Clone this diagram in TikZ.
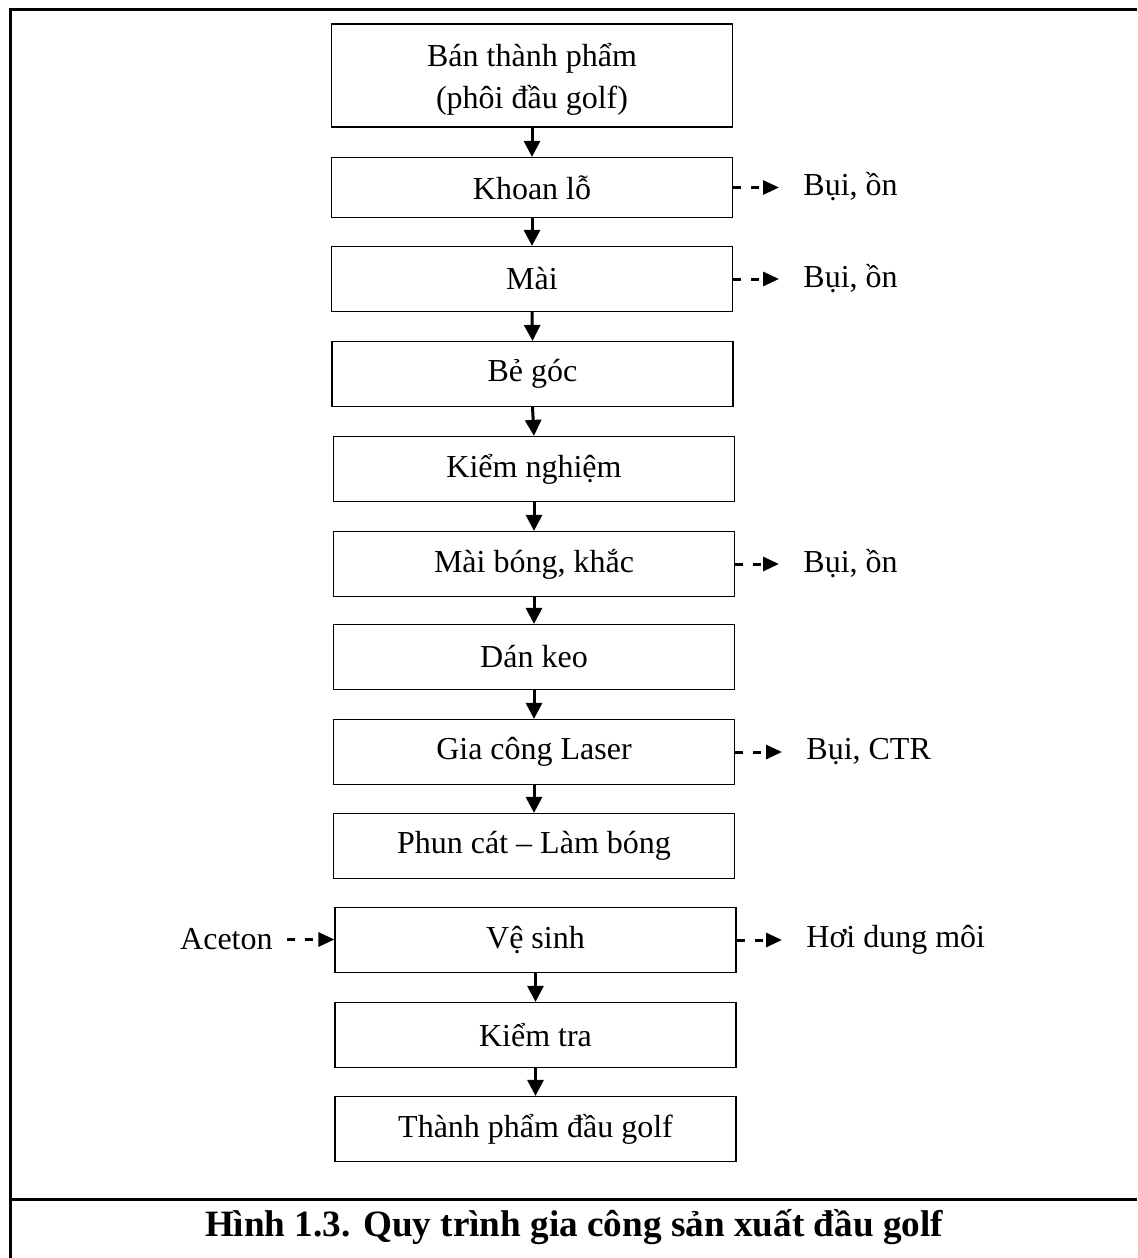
\documentclass[tikz,border=0pt]{standalone}
\usepackage{fontspec}
\setmainfont{Liberation Serif}
\usetikzlibrary{arrows.meta}
\begin{document}
\begin{tikzpicture}[x=0.5pt,y=-0.5pt,
  stepbox/.style={draw=black,line width=0.6pt,minimum width=200.5pt,minimum height=32.5pt,
    inner sep=2pt,align=center,font=\fontsize{16}{21}\selectfont},
  side/.style={inner sep=0pt,anchor=west,font=\fontsize{16}{20}\selectfont},
  flow/.style={line width=1.5pt,-{Triangle[length=8pt,width=8pt]}},
  emit/.style={line width=1.5pt,dash pattern=on 4pt off 5pt,-{Triangle[length=8pt,width=7pt]}}]
\useasboundingbox (0,0) rectangle (1137,1258);

% outer frame and caption divider
\draw[line width=1.5pt] (1137,9) -- (10,9) -- (10,1258);
\draw[line width=1.5pt] (10,1199) -- (1137,1199);

% process steps
\node[stepbox,minimum height=51.5pt,
  label={[align=center,font=\fontsize{16}{21}\selectfont,yshift=-1.75pt]center:Bán thành phẩm\\(phôi đầu golf)}]
  (b1) at (532,75.5) {};
\node[stepbox,minimum height=30pt] (b2) at (532,187.5) {Khoan lỗ};
\node[stepbox] (b3) at (532,279) {Mài};
\node[stepbox] (b4) at (532.5,374) {Bẻ góc};
\node[stepbox] (b5) at (534,469) {Kiểm nghiệm};
\node[stepbox] (b6) at (534,564) {Mài bóng, khắc};
\node[stepbox] (b7) at (534,657) {Dán keo};
\node[stepbox] (b8) at (534,752) {Gia công Laser};
\node[stepbox] (b9) at (534,846) {Phun cát – Làm bóng};
\node[stepbox] (b10) at (535.5,940) {Vệ sinh};
\node[stepbox] (b11) at (535.5,1035) {Kiểm tra};
\node[stepbox] (b12) at (535.5,1129) {Thành phẩm đầu golf};

% main flow
\foreach \a/\b in {b1/b2,b2/b3,b3/b4,b4/b5,b5/b6,b6/b7,b7/b8,b8/b9,b10/b11,b11/b12}
  \draw[flow] (\a.south) -- (\b.north);

% emissions and inputs
\node[side] (l2) at (803,187) {Bụi, ồn};
\node[side] (l3) at (803,278.5) {Bụi, ồn};
\node[side] (l6) at (803,563.5) {Bụi, ồn};
\node[side] (l8) at (806,751.5) {Bụi, CTR};
\node[side] (l10) at (806,939.5) {Hơi dung môi};
\node[side,anchor=east] (in10) at (273,939.5) {Aceton};

\foreach \a/\b in {b2/l2,b3/l3,b6/l6,b8/l8,b10/l10}
  \draw[emit,shorten >=12pt] (\a.east) -- (\a.east -| \b.west);
\draw[emit,shorten <=7pt] (in10.east) -- (in10.east -| b10.west);

% caption
\node[font=\fontsize{18.6}{22}\selectfont\bfseries] (cap) at (574,1227)
  {Hình 1.3. Quy trình gia công sản xuất đầu golf};
\end{tikzpicture}
\end{document}
